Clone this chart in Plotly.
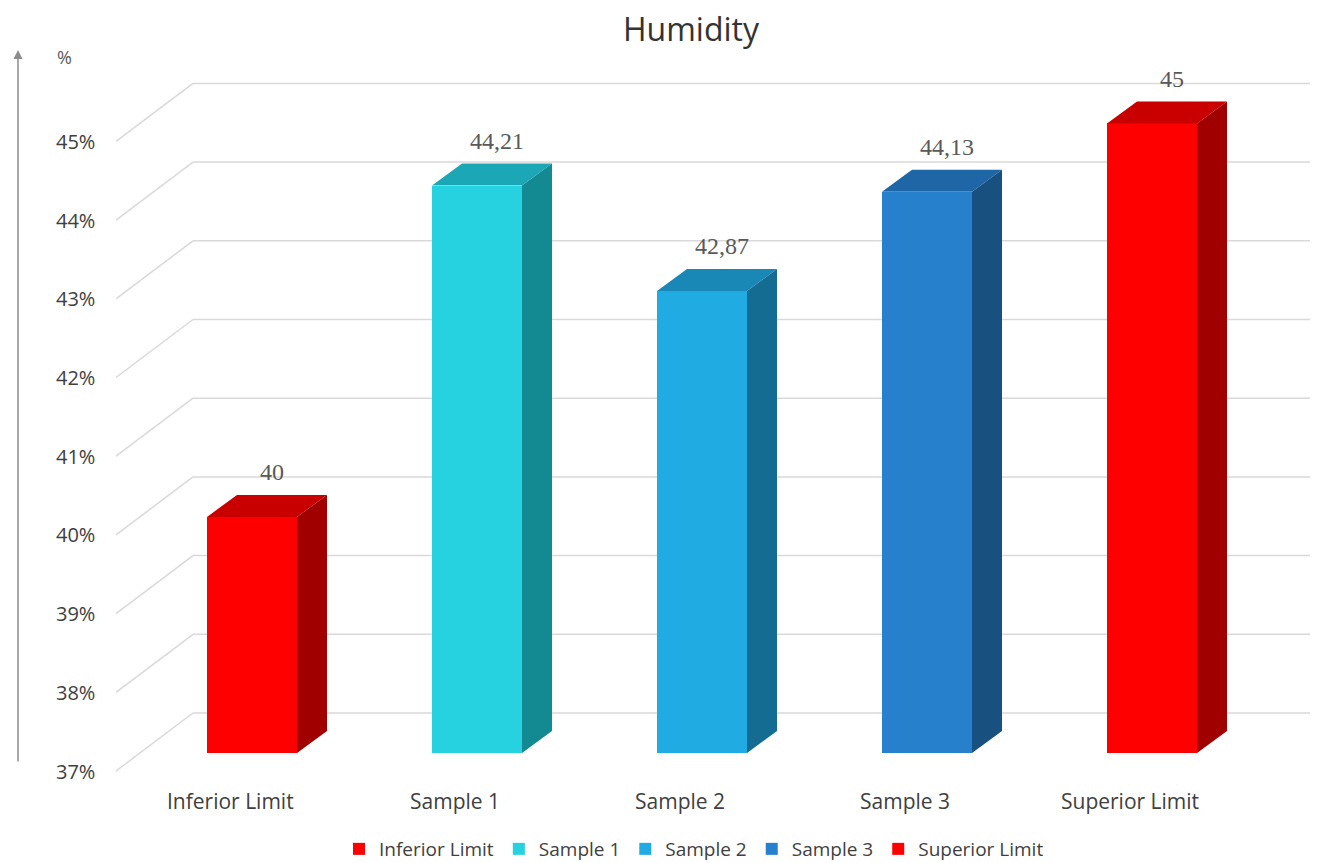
import plotly.graph_objects as go

# ---- data ----
categories = ["Inferior Limit", "Sample 1", "Sample 2", "Sample 3", "Superior Limit"]
values = [40, 44.21, 42.87, 44.13, 45]
value_labels = ["40", "44,21", "42,87", "44,13", "45"]
tick_values = [37, 38, 39, 40, 41, 42, 43, 44, 45]
tick_labels = ["37%", "38%", "39%", "40%", "41%", "42%", "43%", "44%", "45%"]
front_colors = ["#FF0000", "#26D1E0", "#20ACE2", "#2680CB", "#FF0000"]
top_colors = ["#C80000", "#1BA7B5", "#1A88B6", "#1E66A6", "#C80000"]
side_colors = ["#A00000", "#138A92", "#146C92", "#18507F", "#A00000"]

PAGE_W, PAGE_H = 1318, 863
OFF = 8            # browser default body margin
W, H = PAGE_W - OFF, PAGE_H - OFF
BASE = 37
# pixel geometry (page coordinates) of the pseudo-3D layout
PX_PER_CAT = 225.0
PX_PER_UNIT = 78.7
X0_PX = 252.0      # page x of category 0 centre (front plane)
Y0_PX = 753.0      # page y of value 37 in front plane
BAR_W = 0.4
DX = 30 / PX_PER_CAT
DY = 22 / PX_PER_UNIT

def px2x(px):
    return (px - X0_PX) / PX_PER_CAT

def py2y(py):
    return BASE + (Y0_PX - py) / PX_PER_UNIT

def pfx(px):
    return (px - OFF) / W

def pfy(py):
    return 1 - (py - OFF) / H

fig = go.Figure()

# back wall gridlines and floor diagonals
back_off = 40 / PX_PER_UNIT
front_off = -18 / PX_PER_UNIT
shapes = []
for v in tick_values:
    shapes.append(dict(type="line", xref="x", yref="y", layer="below",
                       x0=px2x(193), x1=px2x(PAGE_W + 5), y0=v + back_off, y1=v + back_off,
                       line=dict(color="#D9D9D9", width=1.5)))
    shapes.append(dict(type="line", xref="x", yref="y", layer="below",
                       x0=px2x(116), x1=px2x(193), y0=v + front_off, y1=v + back_off,
                       line=dict(color="#D9D9D9", width=1.5)))

# front faces
for i, (c, v) in enumerate(zip(categories, values)):
    fig.add_trace(go.Bar(x=[i], y=[v - BASE], base=BASE, width=BAR_W, name=c,
                         marker=dict(color=front_colors[i], line=dict(width=0)),
                         hoverinfo="skip", showlegend=True))

# top and side faces
for i, v in enumerate(values):
    xl, xr = i - BAR_W / 2, i + BAR_W / 2
    fig.add_trace(go.Scatter(
        x=[xl, xr, xr + DX, xl + DX, xl], y=[v, v, v + DY, v + DY, v],
        fill="toself", fillcolor=top_colors[i], mode="lines",
        line=dict(width=0, color=top_colors[i]), showlegend=False, hoverinfo="skip"))
    fig.add_trace(go.Scatter(
        x=[xr, xr, xr + DX, xr + DX, xr], y=[BASE, v, v + DY, BASE + DY, BASE],
        fill="toself", fillcolor=side_colors[i], mode="lines",
        line=dict(width=0, color=side_colors[i]), showlegend=False, hoverinfo="skip"))

annotations = []
# value labels
for i, (v, t) in enumerate(zip(values, value_labels)):
    annotations.append(dict(x=i + DX / 2 + 0.02, y=v + DY + 0.29, text=t, showarrow=False,
                            xanchor="center", yanchor="middle",
                            font=dict(family="Liberation Serif", size=24, color="#595959")))
# y tick labels
for v, t in zip(tick_values, tick_labels):
    annotations.append(dict(x=px2x(97), y=v + front_off, text=t, showarrow=False,
                            xanchor="right", yanchor="middle",
                            font=dict(family="Open Sans", size=20, color="#404040")))
# category labels
for i, c in enumerate(categories):
    annotations.append(dict(x=i - 22 / PX_PER_CAT, y=py2y(801), text=c, showarrow=False,
                            xanchor="center", yanchor="middle",
                            font=dict(family="Open Sans", size=21, color="#404040")))
# axis arrow and unit
annotations.append(dict(x=px2x(18), y=py2y(50), ax=0, ay=713, xref="x", yref="y",
                        text="", showarrow=True, arrowhead=2, arrowsize=1.2,
                        arrowwidth=1.5, arrowcolor="#8C8C8C"))
annotations.append(dict(x=px2x(64), y=py2y(57), text="%", showarrow=False,
                        font=dict(family="Open Sans", size=18, color="#595959")))
# title
annotations.append(dict(x=pfx(691), y=pfy(29), xref="paper", yref="paper", text="Humidity",
                        showarrow=False, xanchor="center", yanchor="middle",
                        font=dict(family="Open Sans", size=32, color="#333333")))

fig.update_layout(
    width=W, height=H,
    margin=dict(l=0, r=0, t=0, b=0, autoexpand=False),
    paper_bgcolor="white", plot_bgcolor="white",
    xaxis=dict(range=[px2x(OFF), px2x(OFF + W)], visible=False, fixedrange=True),
    yaxis=dict(range=[py2y(OFF + H), py2y(OFF)], visible=False, fixedrange=True),
    shapes=shapes,
    annotations=annotations,
    bargap=0,
    legend=dict(orientation="h", x=pfx(694), xanchor="center", y=pfy(849), yanchor="middle",
                font=dict(family="Open Sans", size=19, color="#404040"),
                itemwidth=30, tracegroupgap=0, bgcolor="rgba(0,0,0,0)"),
    showlegend=True,
)

fig.write_html("out.html")
